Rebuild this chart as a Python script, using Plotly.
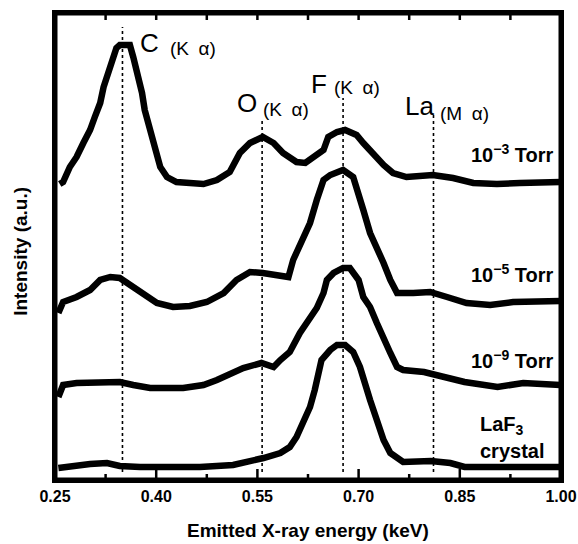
import plotly.graph_objects as go

# ---- data (energy in keV, intensity in arbitrary units, spectra stacked) ----
e_3 = [0.257, 0.262, 0.272, 0.282, 0.292, 0.302, 0.309, 0.317, 0.322, 0.329, 0.336, 0.341,
       0.346, 0.361, 0.366, 0.374, 0.379, 0.383, 0.391, 0.398, 0.406, 0.416, 0.430, 0.450,
       0.470, 0.490, 0.509, 0.524, 0.539, 0.558, 0.574, 0.588, 0.608, 0.621, 0.633, 0.648,
       0.655, 0.668, 0.680, 0.697, 0.707, 0.722, 0.737, 0.751, 0.771, 0.810, 0.840, 0.870,
       0.905, 0.939, 0.999]
i_3 = [296, 298, 313, 323, 337, 350, 363, 377, 393, 408, 420, 432,
       435, 435, 423, 403, 387, 370, 350, 330, 313, 303, 298, 297,
       296, 300, 308, 327, 337, 343, 337, 327, 318, 317, 323, 330,
       343, 348, 350, 345, 337, 325, 315, 307, 303, 305, 302, 297,
       296, 297, 298]

e_5 = [0.255, 0.262, 0.282, 0.302, 0.317, 0.332, 0.346, 0.361, 0.381, 0.401, 0.425, 0.450,
       0.475, 0.500, 0.519, 0.539, 0.558, 0.579, 0.596, 0.603, 0.616, 0.628, 0.638, 0.648,
       0.658, 0.677, 0.692, 0.700, 0.707, 0.717, 0.727, 0.737, 0.747, 0.757, 0.781, 0.806,
       0.831, 0.860, 0.895, 0.929, 0.999]
i_5 = [167, 178, 183, 190, 200, 203, 202, 195, 185, 177, 173, 174,
       178, 187, 200, 208, 207, 205, 203, 220, 240, 257, 280, 300,
       305, 310, 303, 287, 270, 247, 233, 217, 200, 187, 187, 188,
       183, 177, 175, 178, 179]

e_9 = [0.255, 0.262, 0.282, 0.317, 0.346, 0.366, 0.391, 0.440, 0.470, 0.490, 0.514, 0.529,
       0.556, 0.574, 0.584, 0.598, 0.613, 0.625, 0.638, 0.648, 0.653, 0.663, 0.677, 0.687,
       0.700, 0.707, 0.717, 0.727, 0.737, 0.747, 0.757, 0.766, 0.797, 0.824, 0.857, 0.906,
       0.944, 0.999]
i_9 = [83, 95, 97, 97, 98, 95, 92, 92, 95, 100, 107, 112,
       117, 113, 120, 128, 147, 160, 172, 187, 200, 207, 212, 212,
       200, 183, 173, 157, 140, 127, 113, 110, 108, 103, 98, 93,
       97, 95]

e_laf3 = [0.255, 0.272, 0.302, 0.327, 0.346, 0.376, 0.416, 0.465, 0.514, 0.539, 0.559, 0.584,
          0.598, 0.608, 0.618, 0.628, 0.635, 0.640, 0.645, 0.658, 0.668, 0.680, 0.692, 0.702,
          0.707, 0.717, 0.727, 0.737, 0.747, 0.766, 0.807, 0.836, 0.857, 0.906, 0.999]
i_laf3 = [12, 14, 16, 17, 14, 13, 13, 13, 15, 18, 22, 27,
          33, 43, 57, 73, 90, 107, 120, 130, 135, 135, 128, 113,
          100, 80, 60, 40, 27, 18, 19, 17, 13, 13, 13]

peak_names = ["C", "O", "F", "La"]
peak_lines = ["(K\u2002\u03b1)", "(K\u2002\u03b1)", "(K\u2002\u03b1)", "(M\u2002\u03b1)"]
peak_energy = [0.350, 0.557, 0.677, 0.811]
peak_line_top = [453, 360, 382, 367]

tick_vals = [0.25, 0.40, 0.55, 0.70, 0.85, 1.00]
tick_text = ["0.25", "0.40", "0.55", "0.70", "0.85", "1.00"]
minor_vals = [0.325, 0.475, 0.625, 0.775, 0.925]
top_vals = [0.325, 0.40, 0.475, 0.55, 0.625, 0.70, 0.775, 0.85, 0.925]

X_MIN, X_MAX = 0.25, 1.00
Y_MAX = 467
FONT = "Liberation Sans, Arial, sans-serif"

fig = go.Figure()
for e, i in [(e_3, i_3), (e_5, i_5), (e_9, i_9), (e_laf3, i_laf3)]:
    fig.add_trace(go.Scatter(x=e, y=i, mode="lines",
                             line=dict(color="black", width=6.5),
                             showlegend=False, hoverinfo="skip"))

# frame drawn along the axis range (line is clipped to the plot area, so doubled width)
fig.add_trace(go.Scatter(x=[X_MIN, X_MAX, X_MAX, X_MIN, X_MIN],
                         y=[0, 0, Y_MAX, Y_MAX, 0], mode="lines",
                         line=dict(color="black", width=5),
                         showlegend=False, hoverinfo="skip"))

# inside tick marks: bottom majors / minors, top every 0.075
tx, ty = [], []
for v in tick_vals[1:-1]:
    tx += [v, v, None]
    ty += [0, 11, None]
for v in minor_vals:
    tx += [v, v, None]
    ty += [0, 6, None]
for v in top_vals:
    tx += [v, v, None]
    ty += [Y_MAX, Y_MAX - 7, None]
fig.add_trace(go.Scatter(x=tx, y=ty, mode="lines", connectgaps=False,
                         line=dict(color="black", width=2.5),
                         showlegend=False, hoverinfo="skip"))

# dotted reference lines
for en, top in zip(peak_energy, peak_line_top):
    fig.add_shape(type="line", xref="x", yref="y", x0=en, x1=en, y0=8, y1=top,
                  line=dict(color="black", width=1.6, dash="dot"), layer="below")

# peak labels
name_pos = [(0.390, 437), (0.535, 377), (0.642, 396), (0.790, 374)]
line_pos = [(0.454, 432), (0.592, 371), (0.697, 393), (0.857, 367)]
for name, ln, (nx, ny), (lx, ly) in zip(peak_names, peak_lines, name_pos, line_pos):
    fig.add_annotation(x=nx, y=ny, xref="x", yref="y", text=name, showarrow=False,
                       font=dict(family=FONT, size=26, color="black"),
                       xanchor="center", yanchor="middle")
    fig.add_annotation(x=lx, y=ly, xref="x", yref="y", text=ln, showarrow=False,
                       font=dict(family=FONT, size=19, color="black"),
                       xanchor="center", yanchor="middle")

# sample labels
for txt, yy in [("10<sup>\u22123</sup> Torr", 327), ("10<sup>\u22125</sup> Torr", 207),
                ("10<sup>\u22129</sup> Torr", 121)]:
    fig.add_annotation(x=0.993, y=yy, xref="x", yref="y", text="<b>" + txt + "</b>",
                       showarrow=False, font=dict(family=FONT, size=20, color="black"),
                       xanchor="right", yanchor="middle")
fig.add_annotation(x=0.913, y=55, xref="x", yref="y", text="<b>LaF<sub>3</sub></b>",
                   showarrow=False, font=dict(family=FONT, size=20, color="black"),
                   xanchor="center", yanchor="middle")
fig.add_annotation(x=0.928, y=29, xref="x", yref="y", text="<b>crystal</b>",
                   showarrow=False, font=dict(family=FONT, size=20, color="black"),
                   xanchor="center", yanchor="middle")

# axis titles
fig.add_annotation(x=0.5, y=-0.108, xref="paper", yref="paper",
                   text="<b>Emitted X-ray energy (keV)</b>", showarrow=False,
                   font=dict(family=FONT, size=19, color="black"),
                   xanchor="center", yanchor="middle")
fig.add_annotation(x=-0.068, y=0.49, xref="paper", yref="paper",
                   text="<b>Intensity (a.u.)</b>", showarrow=False, textangle=-90,
                   font=dict(family=FONT, size=19, color="black"),
                   xanchor="center", yanchor="middle")

fig.update_layout(
    xaxis=dict(range=[X_MIN, X_MAX], tickmode="array", tickvals=tick_vals, ticktext=tick_text,
               ticks="", automargin=False,
               showline=True, linewidth=2.5, linecolor="black", mirror=True,
               showgrid=False, zeroline=False,
               tickfont=dict(family=FONT, size=16, color="black", weight="bold")),
    yaxis=dict(range=[0, Y_MAX], showticklabels=False, ticks="", automargin=False,
               showline=True, linewidth=2.5, linecolor="black", mirror=True,
               showgrid=False, zeroline=False),
    width=578, height=544, margin=dict(l=55, r=17, t=13, b=64),
    plot_bgcolor="white", paper_bgcolor="white",
)

fig.write_html("out.html")
